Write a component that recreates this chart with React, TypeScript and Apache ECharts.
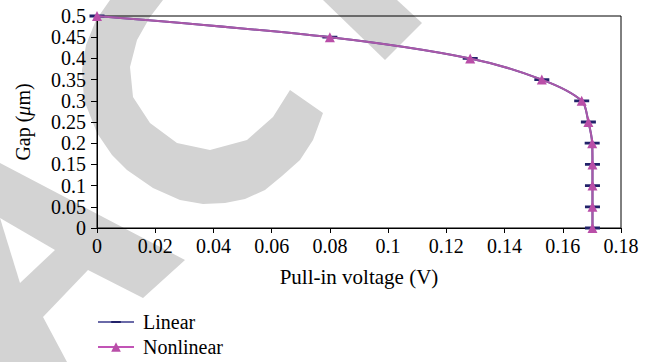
import React, { useEffect, useRef } from "react";
import * as echarts from "echarts";

const gapValues = [0.5, 0.45, 0.4, 0.35, 0.3, 0.25, 0.2, 0.15, 0.1, 0.05, 0];
const linearVoltage = [0, 0.08, 0.1282, 0.1528, 0.1665, 0.1688, 0.1701, 0.1702, 0.1702, 0.1702, 0.1702];
const nonlinearVoltage = [0, 0.08, 0.1282, 0.1528, 0.1665, 0.1688, 0.1701, 0.1702, 0.1702, 0.1702, 0.1702];
const seriesNames = ["Linear", "Nonlinear"];

const SERIF = "Liberation Serif";
const DASH = "path://M0,0L16,0L16,0Z M0,6.5L16,6.5L16,9.5L0,9.5Z M0,16L16,16L16,16Z";
const GRAY = "#d3d3d3";

export default function App() {
  const ref = useRef<HTMLDivElement>(null);
  useEffect(() => {
    if (!ref.current) return;
    const chart = echarts.init(ref.current, undefined, { renderer: "svg" });
    const toPairs = (xs: number[]) => xs.map((x, i) => [x, gapValues[i]]);
    chart.setOption({
      animation: false,
      backgroundColor: "#ffffff",
      graphic: {
        elements: [
          {
            type: "polygon", z: -1, silent: true,
            shape: {
              points: [
                [110, 0], [96, 20], [86, 45], [82, 70], [84, 100], [97, 133], [112, 155], [127, 170],
                [153, 188], [180, 200], [203, 204], [225, 203], [245, 199], [265, 190], [282, 176],
                [300, 160], [313, 140], [323, 113], [290, 90], [273, 117], [247, 140], [210, 150],
                [177, 143], [150, 123], [133, 97], [130, 67], [137, 40], [150, 17], [163, 0],
              ],
            },
            style: { fill: GRAY },
          },
          { type: "polygon", z: -1, silent: true, shape: { points: [[323, 0], [397, 0], [422, 23], [385, 60]] }, style: { fill: GRAY } },
          { type: "polygon", z: -1, silent: true, shape: { points: [[0, 163], [185, 260], [143, 298], [88, 270], [43, 317], [67, 362], [0, 362]] }, style: { fill: GRAY } },
          { type: "polygon", z: -1, silent: true, shape: { points: [[0, 218], [55, 250], [20, 283]] }, style: { fill: "#ffffff" } },
        ],
      },
      grid: { left: 97, right: 32, top: 16, bottom: 134, show: true, borderColor: "#000", borderWidth: 1, backgroundColor: "transparent" },
      legend: {
        orient: "vertical", left: 97, top: 312, height: 50, itemWidth: 36, itemHeight: 12, itemGap: 5, padding: 0,
        textStyle: { fontFamily: SERIF, fontSize: 20, color: "#000", padding: [0, 0, 0, 4] },
        data: [
          { name: seriesNames[0], lineStyle: { color: "#6a6aa8", width: 2 }, itemStyle: { color: "#22226a" } },
          { name: seriesNames[1], lineStyle: { color: "#c254b6", width: 2 }, itemStyle: { color: "#b94ea8" } },
        ],
      },
      xAxis: {
        type: "value", min: 0, max: 0.18, interval: 0.02,
        name: "Pull-in voltage (V)", nameLocation: "middle", nameGap: 38,
        nameTextStyle: { fontFamily: SERIF, fontSize: 21, color: "#000" },
        axisLine: { show: true, lineStyle: { color: "#000", width: 1 } },
        axisTick: { show: true, inside: false, length: 5, lineStyle: { color: "#000" } },
        splitLine: { show: false },
        axisLabel: { fontFamily: SERIF, fontSize: 20, color: "#000", margin: 8, formatter: (v: number) => String(+v.toFixed(2)) },
      },
      yAxis: {
        type: "value", min: 0, max: 0.5, interval: 0.05,
        name: "{a|Gap (}{i|μ}{a|m)}", nameLocation: "middle", nameGap: 64, nameRotate: 90,
        nameTextStyle: {
          fontFamily: SERIF, fontSize: 20,
          rich: {
            a: { fontFamily: SERIF, fontSize: 20, color: "#000" },
            i: { fontFamily: SERIF, fontSize: 20, color: "#000", fontStyle: "italic" },
          },
        },
        axisLine: { show: true, lineStyle: { color: "#000", width: 1 } },
        axisTick: { show: true, inside: false, length: 6, lineStyle: { color: "#000" } },
        splitLine: { show: false },
        axisLabel: { fontFamily: SERIF, fontSize: 20, color: "#000", margin: 11, formatter: (v: number) => String(+v.toFixed(2)) },
      },
      series: [
        {
          name: seriesNames[0], type: "line", data: toPairs(linearVoltage), smooth: 0.3,
          symbol: DASH, symbolSize: 15, showAllSymbol: true,
          lineStyle: { color: "#4a4a96", width: 2 }, itemStyle: { color: "#22226a", borderWidth: 0 }, z: 2,
        },
        {
          name: seriesNames[1], type: "line", data: toPairs(nonlinearVoltage), smooth: 0.3,
          symbol: "triangle", symbolSize: 10, showAllSymbol: true,
          lineStyle: { color: "#a958a8", width: 2 }, itemStyle: { color: "#b94ea8", borderWidth: 0 }, z: 3,
        },
      ],
    });
    return () => chart.dispose();
  }, []);
  return <div ref={ref} style={{ position: "fixed", left: 0, top: 0, width: 653, height: 362 }} />;
}
